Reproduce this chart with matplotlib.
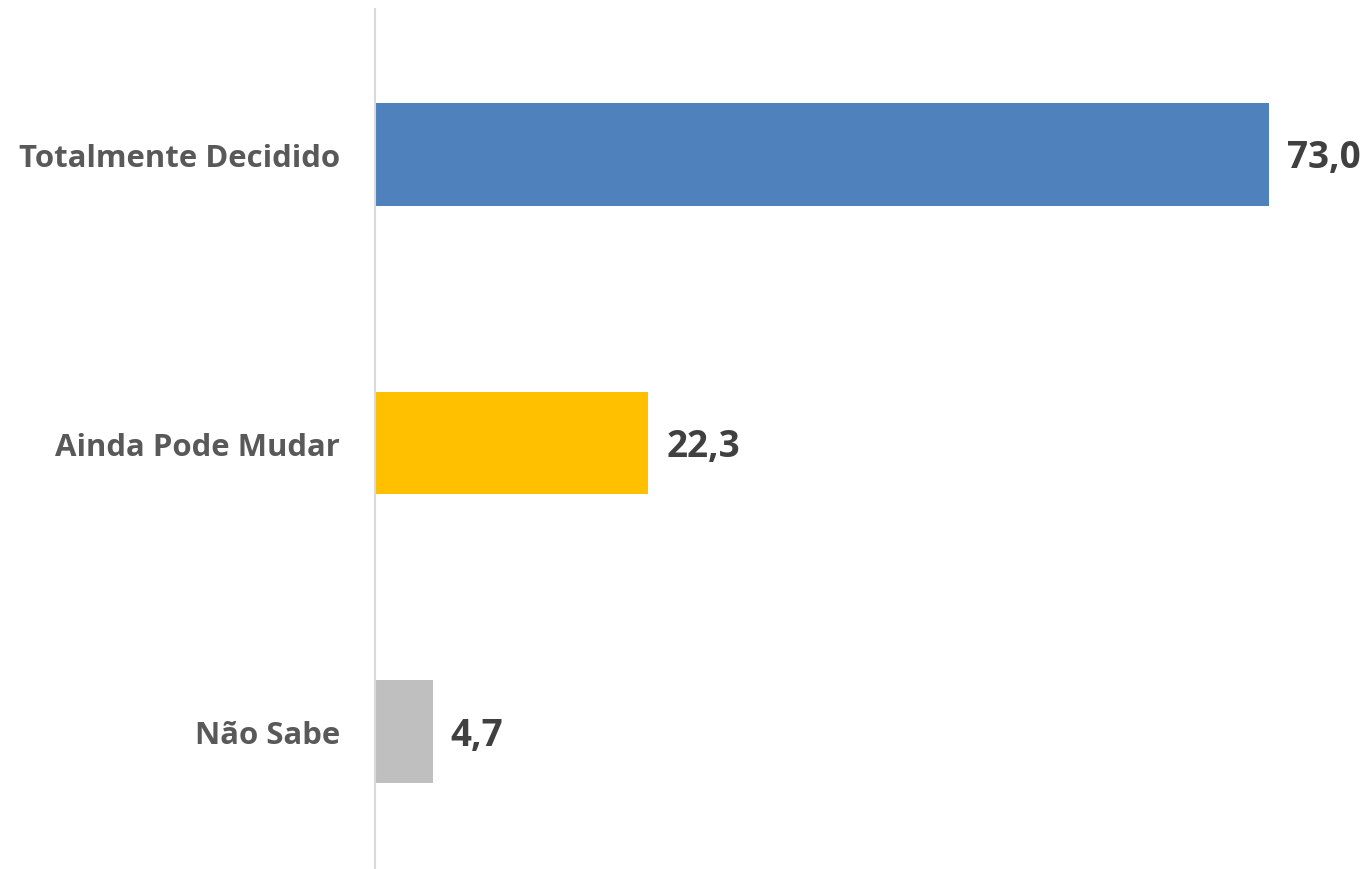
import matplotlib
matplotlib.use("Agg")
import matplotlib.pyplot as plt

categories = ["Totalmente Decidido", "Ainda Pode Mudar", "Não Sabe"]
values = [73.0, 22.3, 4.7]
value_labels = ["73,0", "22,3", "4,7"]
colors = ["#4F81BD", "#FFC000", "#BFBFBF"]

W, H = 1368, 870
fig = plt.figure(figsize=(W / 100, H / 100), dpi=100)
left, right, top, bottom = 375, 1368, 10, 870
ax = fig.add_axes([left / W, 1 - bottom / H, (right - left) / W, (bottom - top) / H])

px_per_unit = 12.25
ax.set_xlim(0, (right - left) / px_per_unit)
ax.set_ylim(2.475, -0.503)

ypos = list(range(len(categories)))
ax.barh(ypos, values, height=0.356, color=colors)

for y, v, lab in zip(ypos, values, value_labels):
    ax.annotate(lab, xy=(v, y), xytext=(13, -2), textcoords="offset points",
                ha="left", va="center", fontsize=26.5, fontweight="bold",
                color="#404040", family="Open Sans")

ax.set_yticks(ypos)
ax.set_yticklabels(categories, fontsize=22.4, fontweight="bold", color="#595959",
                   family="Open Sans")
ax.tick_params(axis="y", length=0, pad=25)
ax.set_xticks([])
for s in ["top", "right", "bottom"]:
    ax.spines[s].set_visible(False)
ax.spines["left"].set_color("#D9D9D9")
ax.spines["left"].set_linewidth(1.5)

fig.savefig("out.png", dpi=100)
